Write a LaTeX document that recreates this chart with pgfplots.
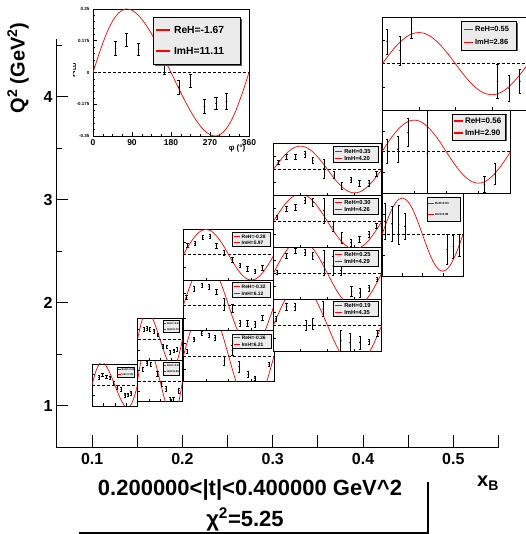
\documentclass[border=0pt]{standalone}
\usepackage{pgfplots}
\pgfplotsset{compat=1.18}
\usepackage{fontspec}
\setmainfont{Liberation Sans}
\definecolor{fitred}{RGB}{255,0,0}

\pgfplotsset{
  panel/.style={scale only axis, anchor=south west,
    xmin=0, xmax=360, ymin=-0.35, ymax=0.35,
    axis background/.style={fill=white},
    axis line style={line width=0.9pt, black},
    tick pos=left, tick align=inside,
    xtick={90,180,270}, ytick={-0.175,0.175},
    xticklabels={}, yticklabels={},
    major tick length=2.5pt,
    tick style={line width=0.5pt, black}},
  zero/.style={black, dash pattern=on 3pt off 2pt, line width=0.6pt, forget plot},
  curve/.style={fitred, line width=0.7pt, smooth},
  pts/.style={black, only marks, mark=*, mark size=0.55pt,
    error bars/.cd, y dir=both, y explicit,
    error bar style={line width=0.6pt, black},
    error mark options={rotate=90, mark size=#1, line width=0.6pt, black},
    /pgfplots/.cd},
  pts/.default=1.1pt,
}

% one phi-panel: x, y (lower left, pt), width, height, fit curve, data points
\newcommand{\panel}[6]{%
  \begin{axis}[panel, at={(#1pt,#2pt)}, width=#3pt, height=#4pt]
    \addplot[zero] coordinates {(0,0) (360,0)};
    \addplot[curve] coordinates {#5};
    \addplot[pts] coordinates {#6};
  \end{axis}}

% legend box: left, top, right, bottom (image units), font size, two entries
\newcommand{\lgd}[7]{%
  \pgfmathsetmacro\lgL{#1-56}\pgfmathsetmacro\lgR{#3-56}%
  \pgfmathsetmacro\lgT{447-#2}\pgfmathsetmacro\lgB{447-#4}%
  \pgfmathsetmacro\lgW{\lgR-\lgL}\pgfmathsetmacro\lgH{\lgT-\lgB}%
  \pgfmathsetmacro\lgS{0.05*\lgH}%
  \pgfmathsetmacro\lgLW{max(0.9,0.05*\lgH)}%
  \pgfmathsetmacro\lgU{\lgT-0.27*\lgH}\pgfmathsetmacro\lgD{\lgT-0.73*\lgH}%
  \fill[black!65] (\lgL+\lgS,\lgB-\lgS) rectangle (\lgR+\lgS,\lgT-\lgS);
  \filldraw[fill=black!8, draw=black, line width=0.5pt] (\lgL,\lgB) rectangle (\lgR,\lgT);
  \draw[fitred, line width=\lgLW pt] (\lgL+0.04*\lgW,\lgU) -- (\lgL+0.2*\lgW,\lgU);
  \draw[fitred, line width=\lgLW pt] (\lgL+0.04*\lgW,\lgD) -- (\lgL+0.2*\lgW,\lgD);
  \node[anchor=west, inner sep=0, font=\bfseries\fontsize{#5}{#5}\selectfont] at (\lgL+0.24*\lgW,\lgU) {#6};
  \node[anchor=west, inner sep=0, font=\bfseries\fontsize{#5}{#5}\selectfont] at (\lgL+0.24*\lgW,\lgD) {#7};
}

\begin{document}
\begin{tikzpicture}[x=1pt,y=1pt]
\useasboundingbox (-56,-87) rectangle (469,447);

% main x_B - Q^2 frame
\begin{axis}[
  scale only axis, width=442.5pt, height=408pt,
  xmin=0.06, xmax=0.55, ymin=0.6, ymax=4.56,
  axis lines=left, axis line style={-, line width=0.8pt},
  xtick={0.1,0.2,0.3,0.4,0.5}, xticklabels={0.1,0.2,0.3,0.4,0.5},
  extra x ticks={0.15,0.25,0.35,0.45,0.55}, extra x tick labels={},
  ytick={1,2,3,4}, yticklabels={1,2,3,4},
  minor ytick={1.5,2.5,3.5,4.5},
  tick align=inside, major tick length=12pt, minor tick length=6pt,
  tick style={line width=0.8pt, black},
  ticklabel style={font=\bfseries\fontsize{16}{16}\selectfont},
  xticklabel style={yshift=-3pt},
]
\end{axis}

% x_B 0.10-0.15
\panel{36}{41}{45.5}{42}
{(0,0)(15,.119)(30,.224)(45,.305)(60,.356)(75,.377)(90,.370)(105,.340)(120,.291)(135,.229)(150,.158)(165,.080)(180,0)(195,-.080)(210,-.158)(225,-.229)(240,-.291)(255,-.340)(270,-.370)(285,-.377)(300,-.356)(315,-.305)(330,-.224)(345,-.119)(360,0)}
{(56,.128) +- (0,.03) (83,.172) +- (0,.03) (115,.139) +- (0,.03) (144,.122) +- (0,.03) (171,.033) +- (0,.03) (200,-.039) +- (0,.035) (232,-.078) +- (0,.035) (261,-.167) +- (0,.03) (285,-.161) +- (0,.03) (309,-.133) +- (0,.035)}
\lgd{117.3}{367}{134.7}{377.7}{2.6}{ReH=-0.42}{ImH=7.85}

% x_B 0.15-0.20
\panel{81.5}{45.5}{45}{41.2}
{(0,0)(15,.193)(30,.363)(45,.494)(60,.577)(75,.611)(90,.600)(105,.551)(120,.472)(135,.372)(150,.256)(165,.130)(180,0)(195,-.130)(210,-.256)(225,-.372)(240,-.472)(255,-.551)(270,-.600)(285,-.611)(300,-.577)(315,-.494)(330,-.363)(345,-.193)(360,0)}
{(42,.20) +- (0,.035) (75,.30) +- (0,.035) (105,.28) +- (0,.035) (160,.12) +- (0,.04) (193,-.05) +- (0,.04) (228,-.135) +- (0,.04) (263,-.31) +- (0,.035) (288,-.31) +- (0,.035) (330,-.165) +- (0,.04)}
\lgd{163}{362}{179.7}{375.3}{2.6}{ReH=-0.39}{ImH=6.95}

\panel{81.5}{86.7}{45}{41.8}
{(0,0)(15,.144)(30,.272)(45,.371)(60,.433)(75,.459)(90,.450)(105,.413)(120,.354)(135,.279)(150,.192)(165,.098)(180,0)(195,-.098)(210,-.192)(225,-.279)(240,-.354)(255,-.413)(270,-.450)(285,-.459)(300,-.433)(315,-.371)(330,-.272)(345,-.144)(360,0)}
{(54,.172) +- (0,.03) (76,.184) +- (0,.03) (97,.172) +- (0,.03) (133,.138) +- (0,.03) (162,.075) +- (0,.03) (203,-.115) +- (0,.03) (233,-.126) +- (0,.03) (263,-.212) +- (0,.03) (292,-.189) +- (0,.03) (319,-.161) +- (0,.03)}
\lgd{163}{320.3}{179.7}{332.7}{2.6}{ReH=-0.41}{ImH=6.72}

% x_B 0.2-0.3
\panel{127.3}{65.5}{90.7}{50.7}
{(0,0)(15,.186)(30,.360)(45,.509)(60,.624)(75,.695)(90,.720)(105,.695)(120,.624)(135,.509)(150,.360)(165,.186)(180,0)(195,-.186)(210,-.360)(225,-.509)(240,-.624)(255,-.695)(270,-.720)(285,-.695)(300,-.624)(315,-.509)(330,-.360)(345,-.186)(360,0)}
{(16,.069) +- (0,.025) (42,.235) +- (0,.03) (73,.313) +- (0,.03) (103,.29) +- (0,.03) (126,.253) +- (0,.035) (163,-.069) +- (0,.06) (195,.078) +- (0,.07) (222,-.147) +- (0,.07) (258,-.253) +- (0,.04) (284,-.304) +- (0,.03) (341,-.115) +- (0,.03)}
\lgd{232.3}{334}{271}{348.3}{4.9}{ReH=-0.36}{ImH=6.21}

\panel{127.3}{116.2}{90.7}{50.7}
{(0,0)(15,.155)(30,.300)(45,.424)(60,.520)(75,.580)(90,.600)(105,.580)(120,.520)(135,.424)(150,.300)(165,.155)(180,0)(195,-.155)(210,-.300)(225,-.424)(240,-.520)(255,-.580)(270,-.600)(285,-.580)(300,-.520)(315,-.424)(330,-.300)(345,-.155)(360,0)}
{(13,.11) +- (0,.03) (44,.23) +- (0,.03) (75,.281) +- (0,.03) (103,.258) +- (0,.03) (132,.189) +- (0,.04) (163,.018) +- (0,.08) (195,-.041) +- (0,.05) (225,-.249) +- (0,.04) (255,-.249) +- (0,.04) (285,-.258) +- (0,.04) (314,-.171) +- (0,.03)}
\lgd{232.3}{282.7}{270.7}{297.3}{4.9}{ReH=-0.32}{ImH=6.12}

\panel{127.3}{166.9}{90.7}{50.7}
{(0,0)(15,.091)(30,.175)(45,.247)(60,.303)(75,.338)(90,.350)(105,.338)(120,.303)(135,.247)(150,.175)(165,.091)(180,0)(195,-.091)(210,-.175)(225,-.247)(240,-.303)(255,-.338)(270,-.350)(285,-.338)(300,-.303)(315,-.247)(330,-.175)(345,-.091)(360,0)}
{(17,.129) +- (0,.028) (46,.152) +- (0,.028) (77,.235) +- (0,.028) (106,.253) +- (0,.028) (132,.124) +- (0,.03) (163,.028) +- (0,.035) (195,-.069) +- (0,.035) (225,-.147) +- (0,.03) (255,-.193) +- (0,.03) (285,-.226) +- (0,.03) (314,-.180) +- (0,.028)}
\lgd{232.3}{232.7}{270.7}{246.7}{4.9}{ReH=-0.28}{ImH=5.97}

% x_B 0.30-0.42
\panel{217.3}{95.5}{108.4}{52}
{(0,0)(15,.142)(30,.275)(45,.389)(60,.476)(75,.531)(90,.550)(105,.531)(120,.476)(135,.389)(150,.275)(165,.142)(180,0)(195,-.142)(210,-.275)(225,-.389)(240,-.476)(255,-.531)(270,-.550)(285,-.531)(300,-.476)(315,-.389)(330,-.275)(345,-.142)(360,0)}
{(9,.092) +- (0,.03) (44,.252) +- (0,.045) (72,.252) +- (0,.05) (109,0) +- (0,.07) (131,.018) +- (0,.075) (166,.22) +- (0,.1) (224,-.206) +- (0,.137) (255,-.229) +- (0,.126) (288,-.229) +- (0,.09) (318,-.215) +- (0,.034) (346,-.105) +- (0,.034)}
\lgd{333.3}{301.7}{378.3}{316.7}{5.8}{ReH=0.19}{ImH=4.35}

\panel{217.3}{147.5}{108.4}{52}
{(0,0)(15,.116)(30,.225)(45,.318)(60,.390)(75,.435)(90,.450)(105,.435)(120,.390)(135,.318)(150,.225)(165,.116)(180,0)(195,-.116)(210,-.225)(225,-.318)(240,-.390)(255,-.435)(270,-.450)(285,-.435)(300,-.390)(315,-.318)(330,-.225)(345,-.116)(360,0)}
{(13,.018) +- (0,.03) (44,.235) +- (0,.035) (74,.303) +- (0,.035) (105,.28) +- (0,.04) (131,.235) +- (0,.05) (168,.145) +- (0,.17) (199,.1) +- (0,.13) (225,.04) +- (0,.07) (260,-.239) +- (0,.07) (288,-.262) +- (0,.06) (318,-.194) +- (0,.04) (345,-.081) +- (0,.03)}
\lgd{333.3}{250}{378.3}{266}{5.8}{ReH=0.25}{ImH=4.29}

\panel{217.3}{199.5}{108.4}{52}
{(0,0)(15,.096)(30,.185)(45,.262)(60,.320)(75,.357)(90,.370)(105,.357)(120,.320)(135,.262)(150,.185)(165,.096)(180,0)(195,-.096)(210,-.185)(225,-.262)(240,-.320)(255,-.357)(270,-.370)(285,-.357)(300,-.320)(315,-.262)(330,-.185)(345,-.096)(360,0)}
{(13,.054) +- (0,.03) (44,.176) +- (0,.035) (74,.19) +- (0,.035) (105,.28) +- (0,.04) (131,.257) +- (0,.05) (168,.145) +- (0,.17) (199,-.068) +- (0,.07) (227,-.217) +- (0,.07) (258,-.285) +- (0,.05) (286,-.239) +- (0,.04) (318,-.172) +- (0,.035) (343,-.059) +- (0,.03)}
\lgd{333.3}{198.3}{378.3}{214}{5.8}{ReH=0.30}{ImH=4.26}

\panel{217.3}{251.5}{108.4}{52}
{(0,0)(15,.082)(30,.158)(45,.223)(60,.273)(75,.304)(90,.315)(105,.304)(120,.273)(135,.223)(150,.158)(165,.082)(180,0)(195,-.082)(210,-.158)(225,-.223)(240,-.273)(255,-.304)(270,-.315)(285,-.304)(300,-.273)(315,-.223)(330,-.158)(345,-.082)(360,0)}
{(17,.096) +- (0,.03) (44,.175) +- (0,.035) (74,.166) +- (0,.035) (105,.206) +- (0,.04) (131,.123) +- (0,.04) (168,.009) +- (0,.125) (202,-.074) +- (0,.05) (227,-.219) +- (0,.05) (258,-.14) +- (0,.035) (286,-.188) +- (0,.04) (318,-.184) +- (0,.04) (343,-.057) +- (0,.03)}
\lgd{333.3}{146.7}{378.3}{162.7}{5.8}{ReH=0.35}{ImH=4.20}

% x_B above 0.42
\panel{326}{171}{81}{82.7}
{(0,0)(15,.080)(30,.155)(45,.219)(60,.268)(75,.299)(90,.310)(105,.299)(120,.268)(135,.219)(150,.155)(165,.080)(180,0)(195,-.080)(210,-.155)(225,-.219)(240,-.268)(255,-.299)(270,-.310)(285,-.299)(300,-.268)(315,-.219)(330,-.155)(345,-.080)(360,0)}
{(13,.112) +- (0,.154) (44,.092) +- (0,.147) (74,.084) +- (0,.168) (102,.07) +- (0,.112) (290,-.126) +- (0,.126) (317,-.1) +- (0,.098) (344,-.091) +- (0,.091)}
\lgd{427}{197}{460}{221}{3}{ReH=0.53}{ImH=2.99}

\panel{326}{253.7}{128.5}{83.3}
{(0,0)(15,.069)(30,.133)(45,.187)(60,.229)(75,.256)(90,.265)(105,.256)(120,.229)(135,.187)(150,.133)(165,.069)(180,0)(195,-.069)(210,-.133)(225,-.187)(240,-.229)(255,-.256)(270,-.265)(285,-.256)(300,-.229)(315,-.187)(330,-.133)(345,-.069)(360,0)}
{(15,.006) +- (0,.1) (45,.02) +- (0,.106) (73,.16) +- (0,.116) (127,-.014) +- (0,.4) (287,-.274) +- (0,.07) (317,-.19) +- (0,.088) (347,.21) +- (0,.105)}
\lgd{452}{114}{505.3}{140}{8}{ReH=0.56}{ImH=2.90}

\panel{326.3}{337}{146}{92.7}
{(0,0)(15,.061)(30,.118)(45,.166)(60,.204)(75,.227)(90,.235)(105,.227)(120,.204)(135,.166)(150,.118)(165,.061)(180,0)(195,-.061)(210,-.118)(225,-.166)(240,-.204)(255,-.227)(270,-.235)(285,-.227)(300,-.204)(315,-.166)(330,-.118)(345,-.061)(360,0)}
{(12,.168) +- (0,.095) (44,.098) +- (0,.11) (72,.268) +- (0,.08) (284,-.133) +- (0,.13) (313,-.188) +- (0,.1) (339,-.133) +- (0,.09)}
\lgd{461.7}{21.7}{516.7}{50}{7.5}{ReH=0.55}{ImH=2.86}

% enlarged example panel
\begin{axis}[panel, at={(37pt,311pt)}, width=156pt, height=127pt,
  axis line style={line width=0.7pt},
  xtick={0,90,180,270,360}, xticklabels={0,90,180,270,360},
  ytick={-0.35,-0.175,0,0.175,0.35}, yticklabels={-0.35,-0.175,0,0.175,0.35},
  minor x tick num=3, minor y tick num=4,
  major tick length=4pt, minor tick length=2pt,
  xticklabel style={font=\bfseries\fontsize{8.5}{9}\selectfont},
  yticklabel style={font=\bfseries\fontsize{4.5}{5}\selectfont},
]
\addplot[zero] coordinates {(0,0) (360,0)};
\addplot[curve] coordinates {(0,0)(15,.110)(30,.208)(45,.283)(60,.330)(75,.350)(90,.343)(105,.315)(120,.270)(135,.213)(150,.146)(165,.074)(180,0)(195,-.074)(210,-.146)(225,-.213)(240,-.270)(255,-.315)(270,-.343)(285,-.350)(300,-.330)(315,-.283)(330,-.208)(345,-.110)(360,0)};
\addplot[pts=1.6pt] coordinates {(52,.134) +- (0,.04) (77,.18) +- (0,.035) (105,.128) +- (0,.035) (165,.024) +- (0,.035) (198,-.081) +- (0,.04) (225,-.046) +- (0,.035) (257,-.187) +- (0,.04) (284,-.17) +- (0,.035) (308,-.16) +- (0,.045)};
\end{axis}
\lgd{153}{17}{240}{64}{10.3}{ReH=-1.67}{ImH=11.11}
\node[anchor=center, font=\bfseries\fontsize{8}{8}\selectfont] at (181,299) {φ (°)};
\begin{scope}
  \clip (17,300) rectangle (30,420);
  \node[rotate=90, anchor=base, inner sep=0, font=\bfseries\fontsize{9}{9}\selectfont] at (19,377) {A\textsubscript{LU}};
\end{scope}

% titles
\node[rotate=90, font=\bfseries\fontsize{20}{20}\selectfont] at (-38,379) {Q\textsuperscript{2} (GeV\textsuperscript{2})};
\node[anchor=base west, inner sep=0, font=\bfseries\fontsize{20}{20}\selectfont] at (421,-40) {x\textsubscript{B}};
\node[font=\bfseries\fontsize{22}{22}\selectfont] at (194,-43) {0.200000<|t|<0.400000 GeV\textasciicircum 2};
\node[font=\bfseries\fontsize{22}{22}\selectfont] at (189,-72.5) {χ\textsuperscript{2}=5.25};
\draw[line width=1.4pt] (23,-86) -- (372,-86) -- (372,-35);
\end{tikzpicture}
\end{document}
